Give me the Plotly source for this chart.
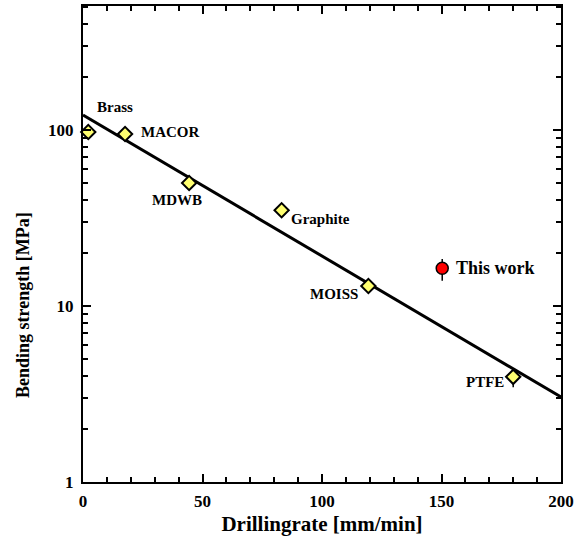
import plotly.graph_objects as go
import numpy as np

materials = ["Brass", "MACOR", "MDWB", "Graphite", "MOISS", "PTFE"]
drill_rate = [2.2, 17.6, 44.4, 83.1, 119.4, 180.0]
strength = [97.5, 95.0, 50.0, 35.0, 13.0, 3.96]
ptfe_err_minus = [0, 0, 0, 0, 0, 0.5]

this_x = [150.3]
this_y = [16.4]
this_err_plus = [2.1]
this_err_minus = [2.5]

fit_x = [0, 200]
fit_y = [121.7, 3.04]

x_ticks = [0, 50, 100, 150, 200]
y_ticks = [1, 10, 100]
y_ticktext = ["1", "10", "100"]

label_pos = {
    "Brass": (13.4, 135, "center"),
    "MACOR": (23.3, 97.4, "left"),
    "MDWB": (39.3, 40.0, "center"),
    "Graphite": (86.0, 31.2, "left"),
    "MOISS": (115.7, 11.7, "right"),
    "PTFE": (176.8, 3.68, "right"),
}

font = "Liberation Serif"
fig = go.Figure()

fig.add_trace(go.Scatter(x=fit_x, y=fit_y, mode="lines",
                         line=dict(color="black", width=3), showlegend=False,
                         cliponaxis=False))

fig.add_trace(go.Scatter(
    x=drill_rate, y=strength, mode="markers",
    marker=dict(symbol="diamond", size=11, color="#FFFF70",
                line=dict(color="black", width=2)),
    error_y=dict(type="data", symmetric=False, array=[0]*6,
                 arrayminus=ptfe_err_minus, color="black", thickness=1.5, width=0),
    showlegend=False, cliponaxis=False))

fig.add_trace(go.Scatter(
    x=this_x, y=this_y, mode="markers",
    marker=dict(symbol="circle", size=12, color="#FF0000",
                line=dict(color="black", width=1.5)),
    error_y=dict(type="data", symmetric=False, array=this_err_plus,
                 arrayminus=this_err_minus, color="black", thickness=1.5, width=0),
    showlegend=False, cliponaxis=False))

for m in materials:
    x, y, anchor = label_pos[m]
    fig.add_annotation(x=x, y=np.log10(y), text=m, showarrow=False, xanchor=anchor,
                       yanchor="middle",
                       font=dict(family=font, size=15, color="black", weight="bold"))

fig.add_annotation(x=155.3, y=np.log10(this_y[0]), text="This work", showarrow=False,
                   xanchor="left", yanchor="middle",
                   font=dict(family=font, size=18, color="black", weight="bold"))

# y-axis title placed as annotation (it sits lower than the plot centre)
fig.add_annotation(xref="paper", yref="y", x=-60 / 478, y=1.006,
                   text="Bending strength [MPa]", textangle=-90, showarrow=False,
                   xanchor="center", yanchor="middle",
                   font=dict(family=font, size=18, color="black", weight="bold"))

fig.update_xaxes(range=[0, 200], tickvals=x_ticks,
                 ticks="inside", ticklen=8, tickwidth=2, tickcolor="black",
                 showline=True, linewidth=2, linecolor="black", mirror="ticks",
                 showgrid=False, zeroline=False, ticklabelstandoff=3,
                 minor=dict(dtick=10, ticks="inside", ticklen=5, tickwidth=2,
                            tickcolor="black", showgrid=False),
                 tickfont=dict(family=font, size=17, color="black", weight="bold"),
                 title=dict(text="Drillingrate [mm/min]", standoff=6,
                            font=dict(family=font, size=21, color="black", weight="bold")))

fig.update_yaxes(type="log", range=[0, 2.705], tickvals=y_ticks,
                 ticktext=y_ticktext,
                 ticks="inside", ticklen=8, tickwidth=2, tickcolor="black",
                 showline=True, linewidth=2, linecolor="black", mirror="ticks",
                 showgrid=False, zeroline=False, ticklabelstandoff=4,
                 minor=dict(dtick="D1", ticks="inside", ticklen=5, tickwidth=2,
                            tickcolor="black", showgrid=False),
                 tickfont=dict(family=font, size=17, color="black", weight="bold"))

fig.update_layout(width=578, height=543,
                  margin=dict(l=83, r=17, t=6, b=61, autoexpand=False),
                  plot_bgcolor="white", paper_bgcolor="white")

fig.write_html("out.html", config={"displayModeBar": False},
               post_script="document.body.style.margin='0';")
